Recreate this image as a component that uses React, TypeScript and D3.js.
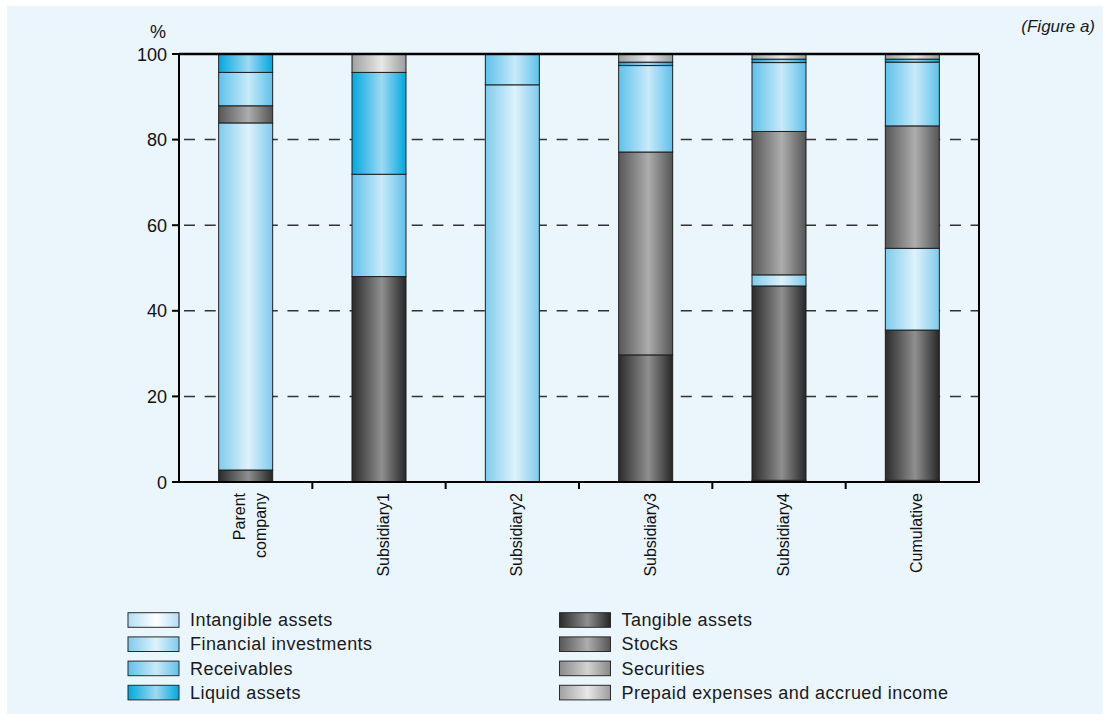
import React from "react";
import * as d3 from "d3";

const categories = ["Parent company", "Subsidiary1", "Subsidiary2", "Subsidiary3", "Subsidiary4", "Cumulative"];
const categoryLines = [["Parent", "company"], ["Subsidiary1"], ["Subsidiary2"], ["Subsidiary3"], ["Subsidiary4"], ["Cumulative"]];

// Stack order bottom -> top
const intangible = [0, 0, 0, 0, 0.4, 0.4];
const tangible = [2.8, 48, 0, 29.7, 45.4, 35.1];
const financial = [81.1, 0, 92.8, 0, 2.6, 19.1];
const stocks = [4, 0, 0, 47.4, 33.5, 28.6];
const receivables = [7.8, 23.9, 7.2, 20.2, 16.1, 14.9];
const securities = [0, 0, 0, 0, 0, 0];
const liquid = [4.3, 23.8, 0, 0.8, 0.8, 0.7];
const prepaid = [0, 4.3, 0, 1.9, 1.2, 1.2];

const yTicks = [0, 20, 40, 60, 80, 100];
const gridTicks = [20, 40, 60, 80];

const seriesKeys = ["intangible", "tangible", "financial", "stocks", "receivables", "securities", "liquid", "prepaid"];
const seriesLabels: Record<string, string> = {
  intangible: "Intangible assets",
  tangible: "Tangible assets",
  financial: "Financial investments",
  stocks: "Stocks",
  receivables: "Receivables",
  securities: "Securities",
  liquid: "Liquid assets",
  prepaid: "Prepaid expenses and accrued income",
};
const seriesValues: Record<string, number[]> = { intangible, tangible, financial, stocks, receivables, securities, liquid, prepaid };
const gradientColors: Record<string, [string, string, string]> = {
  intangible: ["#b3def3", "#ffffff", "#b3def3"],
  tangible: ["#2b2b2b", "#8f8f8f", "#262626"],
  financial: ["#7fcbec", "#def2fb", "#7fcbec"],
  stocks: ["#575757", "#adadad", "#555555"],
  receivables: ["#5fc1ea", "#c8eaf9", "#5fc1ea"],
  securities: ["#8a8a8a", "#d2d2d2", "#888888"],
  liquid: ["#00a8df", "#9fd9f2", "#00a8df"],
  prepaid: ["#a0a0a0", "#e8e8e8", "#9c9c9c"],
};
const legendLeft = ["intangible", "financial", "receivables", "liquid"];
const legendRight = ["tangible", "stocks", "securities", "prepaid"];

const W = 1103, H = 714;
const plotLeft = 179, plotRight = 979, plotTop = 54, plotBottom = 482;

export default function App() {
  const x = d3.scaleBand<string>().domain(categories).range([plotLeft, plotRight]).paddingInner(0).paddingOuter(0);
  const y = d3.scaleLinear().domain([0, 100]).range([plotBottom, plotTop]);
  const barW = x.bandwidth() * 0.405;

  const table = categories.map((c, i) => {
    const row: any = { category: c };
    seriesKeys.forEach((k) => (row[k] = seriesValues[k][i]));
    return row;
  });
  const stacked = d3.stack<any>().keys(seriesKeys)(table);

  const sans = "'Liberation Sans', Arial, sans-serif";

  const legendRow = (k: string, i: number, sx: number) => {
    const top = 612.7 + i * 24.2;
    return (
      <g key={k}>
        <rect x={sx} y={top} width={51} height={14.6} fill={`url(#g-${k})`} stroke="#2a2a2a" strokeWidth={1} />
        <text x={sx + 62} y={top + 13.4} fontFamily={sans} fontSize={18} letterSpacing={0.45} fill="#1a1a1a">
          {seriesLabels[k]}
        </text>
      </g>
    );
  };

  return (
    <svg width={W} height={H} style={{ position: "absolute", left: 0, top: 0, display: "block" }}>
      <defs>
        {seriesKeys.map((k) => (
          <linearGradient key={k} id={`g-${k}`} x1="0" x2="1" y1="0" y2="0">
            <stop offset="0%" stopColor={gradientColors[k][0]} />
            <stop offset="55%" stopColor={gradientColors[k][1]} />
            <stop offset="100%" stopColor={gradientColors[k][2]} />
          </linearGradient>
        ))}
      </defs>
      <rect x={0} y={0} width={W} height={H} fill="#ffffff" />
      <rect x={7} y={6} width={W - 7} height={H - 6} fill="#eaf5fc" />

      {/* gridlines */}
      {gridTicks.map((t) => (
        <line key={t} x1={plotLeft} x2={plotRight} y1={y(t)} y2={y(t)} stroke="#333" strokeWidth={1.5} strokeDasharray="11 9.7" strokeDashoffset={-5} />
      ))}

      {/* bars */}
      {stacked.map((s) => (
        <g key={s.key}>
          {s.map((d, i) => {
            const h = y(d[0]) - y(d[1]);
            if (h <= 0.01) return null;
            const cx = (x(categories[i]) as number) + x.bandwidth() / 2;
            return (
              <rect key={i} x={cx - barW / 2} y={y(d[1])} width={barW} height={h} fill={`url(#g-${s.key})`} stroke="#1e1e1e" strokeWidth={1} />
            );
          })}
        </g>
      ))}

      {/* frame / axes */}
      <line x1={plotLeft} x2={plotRight} y1={plotTop} y2={plotTop} stroke="#000" strokeWidth={2.5} />
      <line x1={plotRight} x2={plotRight} y1={plotTop} y2={plotBottom} stroke="#000" strokeWidth={2} />
      <line x1={plotLeft} x2={plotLeft} y1={plotTop} y2={plotBottom + 1} stroke="#000" strokeWidth={2} />
      <line x1={plotLeft - 1} x2={plotRight + 1} y1={plotBottom} y2={plotBottom} stroke="#000" strokeWidth={2} />

      {yTicks.map((t) => (
        <g key={t}>
          <line x1={plotLeft - 7} x2={plotLeft} y1={y(t)} y2={y(t)} stroke="#000" strokeWidth={2} />
          <text x={167} y={y(t) + 6.5} textAnchor="end" fontFamily={sans} fontSize={18} fill="#111">
            {t}
          </text>
        </g>
      ))}
      <text x={158} y={38} textAnchor="middle" fontFamily={sans} fontSize={18} fill="#111">%</text>

      {categories.slice(1).map((c) => (
        <line key={c} x1={x(c) as number} x2={x(c) as number} y1={plotBottom} y2={plotBottom + 7} stroke="#000" strokeWidth={2} />
      ))}

      {categories.map((c, i) => {
        const cx = (x(c) as number) + x.bandwidth() / 2;
        const lines = categoryLines[i];
        const lh = 21;
        return (
          <g key={c} transform={`translate(${cx},493) rotate(-90)`}>
            {lines.map((ln, j) => (
              <text key={j} x={0} y={10 - ((lines.length - 1) * lh) / 2 + j * lh} textAnchor="end" fontFamily={sans} fontSize={16} fill="#111">
                {ln}
              </text>
            ))}
          </g>
        );
      })}

      <text x={1095} y={32} textAnchor="end" fontFamily={sans} fontStyle="italic" fontSize={17} fill="#1a1a1a">
        (Figure a)
      </text>

      {legendLeft.map((k, i) => legendRow(k, i, 128))}
      {legendRight.map((k, i) => legendRow(k, i, 559.5))}
    </svg>
  );
}
